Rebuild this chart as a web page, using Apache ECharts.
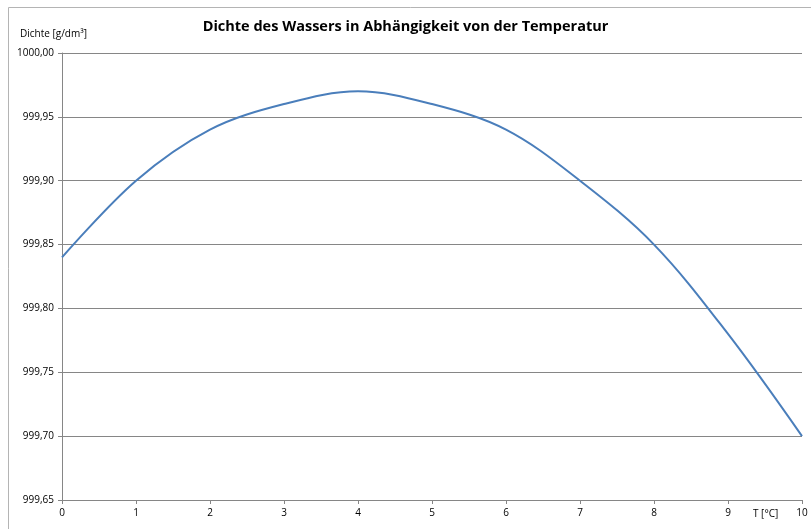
<!DOCTYPE html>
<html>
<head>
<meta charset="utf-8">
<script src="https://cdn.jsdelivr.net/npm/echarts@6/dist/echarts.min.js"></script>
<style>
  html, body { margin: 0; padding: 0; background: #fff; }
  #chart { width: 811px; height: 529px; }
</style>
</head>
<body>
<div id="chart"></div>
<script>
// Temperatur in °C und Dichte in g/dm³
var temps = [0, 1, 2, 3, 4, 5, 6, 7, 8, 9, 10];
var density = [999.84, 999.90, 999.94, 999.96, 999.97, 999.96, 999.94, 999.90, 999.85, 999.78, 999.70];
var xTicks = [0, 1, 2, 3, 4, 5, 6, 7, 8, 9, 10];
var yTicks = [999.65, 999.70, 999.75, 999.80, 999.85, 999.90, 999.95, 1000.00];

var myChart = echarts.init(document.getElementById("chart"));
var font = "'Open Sans', 'Liberation Sans', sans-serif";
var option = {
    animation: false,
    backgroundColor: "#fff",
    title: {
        text: "Dichte des Wassers in Abhängigkeit von der Temperatur",
        left: "center",
        top: 14,
        textStyle: { fontFamily: font, fontSize: 14.5, fontWeight: "bold", color: "#000" },
    },
    graphic: [
        {
            type: "rect",
            shape: { x: 8.5, y: 7.5, width: 900, height: 600 },
            style: { fill: "none", stroke: "#b4b4b4", lineWidth: 1 },
            silent: true,
        },
        {
            type: "text",
            left: 20,
            top: 29,
            style: { text: "Dichte [g/dm³]", font: "10px " + font, fill: "#000" },
        },
        {
            type: "text",
            left: 753,
            top: 509,
            style: { text: "T [°C]", font: "10px " + font, fill: "#000" },
        },
    ],
    grid: { left: 62, right: 9, top: 53, bottom: 29, containLabel: false },
    xAxis: {
        type: "value",
        min: xTicks[0],
        max: xTicks[xTicks.length - 1],
        interval: 1,
        axisLine: { lineStyle: { color: "#868686" } },
        axisTick: { show: true, length: 4, lineStyle: { color: "#868686" } },
        axisLabel: { fontFamily: font, fontSize: 10, color: "#000", margin: 8 },
        splitLine: { show: false },
    },
    yAxis: {
        type: "value",
        min: yTicks[0],
        max: yTicks[yTicks.length - 1],
        interval: 0.05,
        axisLine: { show: true, lineStyle: { color: "#868686" } },
        axisTick: { show: true, length: 4, lineStyle: { color: "#868686" } },
        axisLabel: {
            fontFamily: font,
            fontSize: 10,
            color: "#000",
            margin: 8,
            formatter: function (v) { return v.toFixed(2).replace(".", ","); },
        },
        splitLine: { show: true, lineStyle: { color: "#868686", width: 1 } },
    },
    series: [
        {
            type: "line",
            data: temps.map(function (t, i) { return [t, density[i]]; }),
            smooth: 0.35,
            showSymbol: false,
            lineStyle: { color: "#4a7ebb", width: 2 },
        },
    ],
};
myChart.setOption(option, true);
</script>
</body>
</html>
